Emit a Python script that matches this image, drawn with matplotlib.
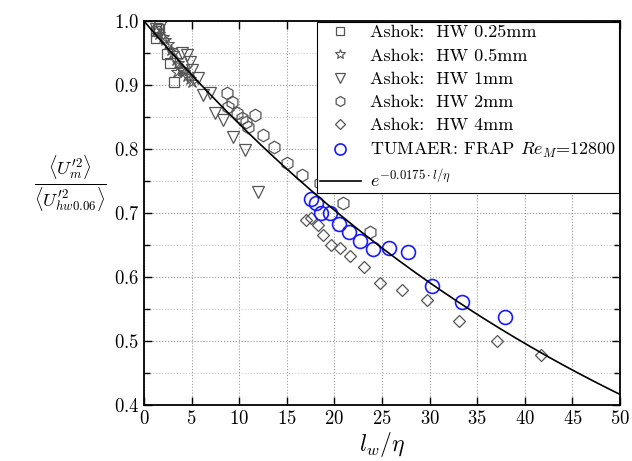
import numpy as np
import matplotlib
matplotlib.use("Agg")
import matplotlib.pyplot as plt
from matplotlib.ticker import MultipleLocator

plt.rcParams['font.family'] = 'cmr10'
plt.rcParams['mathtext.fontset'] = 'cm'
plt.rcParams['axes.formatter.use_mathtext'] = True

# Ashok: HW 0.25mm
sq_x = [1.2, 1.5, 1.6, 1.2, 2.4, 2.7, 3.1]
sq_y = [0.985, 0.988, 0.988, 0.973, 0.948, 0.934, 0.905]
# Ashok: HW 0.5mm
st_x = [1.3, 1.6, 2.0, 2.2, 2.5, 2.8, 3.0, 3.3, 3.5, 3.6, 3.9, 4.1, 4.2, 4.5, 4.8, 5.0]
st_y = [0.985, 0.98, 0.975, 0.97, 0.965, 0.955, 0.95, 0.94, 0.92, 0.935, 0.925, 0.923, 0.92, 0.915, 0.91, 0.905]
# Ashok: HW 1mm
tr_x = [1.3, 1.7, 4.0, 4.5, 4.8, 5.0, 5.7, 6.9, 6.2, 7.5, 8.3, 9.3, 10.6, 12.0]
tr_y = [0.988, 0.991, 0.95, 0.947, 0.936, 0.923, 0.911, 0.888, 0.884, 0.856, 0.845, 0.819, 0.798, 0.733]
# Ashok: HW 2mm
hx_x = [8.7, 9.2, 8.8, 9.8, 10.3, 10.7, 11.7, 10.9, 12.5, 13.6, 15.0, 16.6, 18.5, 20.9, 23.7]
hx_y = [0.8875, 0.873, 0.866, 0.856, 0.848, 0.842, 0.853, 0.834, 0.822, 0.803, 0.778, 0.759, 0.747, 0.716, 0.670]
# Ashok: HW 4mm
dm_x = [17.0, 17.5, 18.3, 18.8, 19.6, 20.6, 21.6, 23.1, 24.8, 27.1, 29.7, 33.1, 37.1, 41.7]
dm_y = [0.689, 0.692, 0.681, 0.666, 0.650, 0.645, 0.633, 0.616, 0.591, 0.580, 0.564, 0.531, 0.500, 0.478]
# TUMAER: FRAP
fr_x = [17.5, 18.1, 18.6, 19.5, 20.5, 21.5, 22.7, 24.1, 25.7, 27.7, 30.3, 33.4, 37.9]
fr_y = [0.722, 0.716, 0.700, 0.700, 0.683, 0.670, 0.656, 0.644, 0.645, 0.639, 0.586, 0.561, 0.538]

fig = plt.figure(figsize=(6.32, 4.61), dpi=100)
ax = fig.add_axes([0.228, 0.121, 0.753, 0.833])

gray = '#555555'
ax.plot(sq_x, sq_y, 's', ms=7, mfc='none', mec=gray, mew=0.9, label='Ashok:  HW 0.25mm')
ax.plot(st_x, st_y, '*', ms=9, mfc='none', mec=gray, mew=0.8, label='Ashok:  HW 0.5mm')
ax.plot(tr_x, tr_y, 'v', ms=9, mfc='none', mec=gray, mew=0.9, label='Ashok:  HW 1mm')
ax.plot(hx_x, hx_y, 'h', ms=9, mfc='none', mec=gray, mew=0.9, label='Ashok:  HW 2mm')
ax.plot(dm_x, dm_y, 'D', ms=6.5, mfc='none', mec=gray, mew=0.9, label='Ashok:  HW 4mm')
ax.plot(fr_x, fr_y, 'o', ms=10, mfc='none', mec='#1a1aff', mew=1.2,
        label=r'TUMAER: FRAP $Re_M$=12800')

x = np.linspace(0, 50, 300)
ax.plot(x, np.exp(-0.0175 * x), color='black', lw=1.2, label=r'$e^{-0.0175\cdot l/\eta}$')

ax.set_xlim(0, 50)
ax.set_ylim(0.4, 1.0)
ax.xaxis.set_major_locator(MultipleLocator(5))
ax.yaxis.set_major_locator(MultipleLocator(0.1))
ax.yaxis.set_minor_locator(MultipleLocator(0.05))
ax.tick_params(which='both', direction='in', top=True, right=True, labelsize=13.5)
ax.tick_params(which='major', length=6, width=1)
ax.tick_params(which='minor', length=4, width=1)
ax.grid(True, which='major', linestyle=':', color='#999999', lw=0.8)
ax.grid(True, which='minor', axis='y', linestyle=':', color='#cccccc', lw=0.8)
for s in ax.spines.values():
    s.set_linewidth(1.3)

ax.set_xlabel(r'$l_w/\eta$', fontsize=17)
ax.xaxis.set_label_coords(0.5, -0.065)
ax.set_ylabel(r'$\frac{\langle U_m^{\prime 2}\rangle}{\langle U_{hw0.06}^{\prime 2}\rangle}$',
              fontsize=19, rotation=0)
ax.yaxis.set_label_coords(-0.155, 0.5)

leg = ax.legend(loc='upper right', fontsize=13, frameon=True, fancybox=False,
                edgecolor='black', framealpha=1, borderaxespad=0.05, markerscale=0.8,
                handlelength=2.3, labelspacing=0.42, borderpad=0.15, handletextpad=0.5)
leg.get_frame().set_linewidth(0.8)

fig.savefig('out.png', dpi=100)
